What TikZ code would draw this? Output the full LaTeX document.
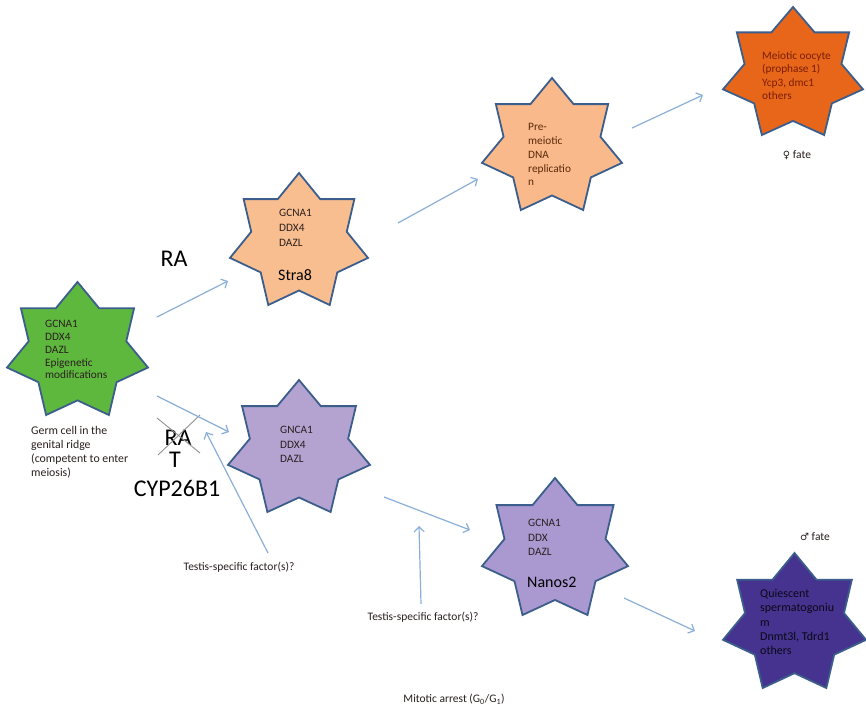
\documentclass[tikz,border=0pt]{standalone}
\usepackage{fontspec}
\setmainfont{Carlito}
\newfontfamily\symfont{DejaVu Sans}
\usetikzlibrary{arrows.meta}
\definecolor{starblue}{HTML}{3B5E8C}
\definecolor{arrblue}{HTML}{8AB0DA}
\definecolor{greenfill}{HTML}{5EB83E}
\definecolor{peachfill}{HTML}{F9BE8F}
\definecolor{peachfillb}{HTML}{F9B98B}
\definecolor{orangefill}{HTML}{E8661A}
\definecolor{lavfill}{HTML}{B4A3D0}
\definecolor{lavfillb}{HTML}{AA98D0}
\definecolor{darkpurp}{HTML}{46338F}
\definecolor{txtdark}{HTML}{2B1F1F}
\definecolor{txtbrown}{HTML}{5A2A0A}
\definecolor{txtred}{HTML}{7A1E05}
\definecolor{xgray}{HTML}{909090}
\newcommand{\sevstar}[6]{%
  \begin{scope}[shift={(#2,#3)}, xscale=#4, yscale=#5]
    \draw[starline, fill=#6] (0.5,0) -- (0.65399,0.19806) -- (0.90097,0.19806)
      -- (0.84601,0.44504) -- (1,0.64311) -- (0.77748,0.75303) -- (0.72252,1)
      -- (0.5,0.89009) -- (0.27748,1) -- (0.22252,0.75303) -- (0,0.64311)
      -- (0.15399,0.44504) -- (0.09903,0.19806) -- (0.34601,0.19806) -- cycle;
    \coordinate (#1) at (0.5,0.52605);
  \end{scope}}
\begin{document}
\begin{tikzpicture}[x=1pt,y=-1pt,
  starline/.style={draw=starblue, line width=1.8pt, line join=miter},
  conn/.style={draw=arrblue, line width=1.2pt, -{Straight Barb[length=5pt,width=10pt]}},
  txt/.style={font=\fontsize{11.3}{#1}\selectfont, align=left, inner sep=0pt, anchor=north west},
  lbl/.style={font=\fontsize{11.5}{13}\selectfont, inner sep=0pt, text=txtdark},
  big/.style={font=\fontsize{24}{26}\selectfont, inner sep=0pt, text=black},
  mid/.style={font=\fontsize{16}{18}\selectfont, inner sep=0pt, anchor=west, text=black}]
\useasboundingbox (0,0) rectangle (866,706);
\fill[white] (0,0) rectangle (866,706);

% stars
\sevstar{sgreen}{7}{282}{141}{133}{greenfill}
\sevstar{sstra}{230}{173}{138}{132}{peachfill}
\sevstar{spre}{482}{78}{140}{132}{peachfillb}
\sevstar{socyte}{723}{7}{140}{128}{orangefill}
\sevstar{sgnca}{228}{380}{142}{132}{lavfill}
\sevstar{snanos}{482}{478}{146}{137}{lavfillb}
\sevstar{squies}{723}{553}{143}{135}{darkpurp}

% star texts
\node[txt=12.75, text=txtdark] (tgreen) at (45,320.3) {GCNA1\\DDX4\\DAZL\\Epigenetic\\modifications};
\node[txt=15, text=txtdark] (tstra) at (279,209.3) {GCNA1\\DDX4\\DAZL};
\node[mid] (lstra) at (278,275) {Stra8};
\node[txt=13.8, text=txtbrown] (tpre) at (528,123.3) {Pre-\\meiotic\\DNA\\replicatio\\n};
\node[txt=13.5, text=txtred] (tocyte) at (762,51.3) {Meiotic oocyte\\(prophase 1)\\Ycp3, dmc1\\others};
\node[txt=14.5, text=txtdark] (tgnca) at (280,426.3) {GNCA1\\DDX4\\DAZL};
\node[txt=14.5, text=txtdark] (tnanos) at (528,519.3) {GCNA1\\DDX\\DAZL};
\node[mid] (lnanos) at (527,582) {Nanos2};
\node[txt=14.3, text=black!85!darkpurp, font=\fontsize{12}{14.3}\selectfont] (tquies) at (760,589) {Quiescent\\spermatogoniu\\m\\Dnmt3l, Tdrd1\\others};

% other labels
\node[txt=14, text=txtdark, font=\fontsize{11.8}{14}\selectfont] (germ) at (31,426) {Germ cell in the\\genital ridge\\(competent to enter\\meiosis)};
\node[lbl] (ffate) at (797,155) {{\symfont\fontsize{10}{12}\selectfont ♀} fate};
\node[lbl] (mfate) at (815,537) {{\symfont\fontsize{10}{12}\selectfont ♂} fate};
\node[big] (ra) at (174,259) {RA};
\node[big] (rax) at (178,438) {RA};
\node[big] (rat) at (175,460) {T};
\node[big] (cyp) at (177,488) {CYP26B1};
\node[lbl] (tsf1) at (239,567) {Testis-specific factor(s)?};
\node[lbl] (tsf2) at (423,617) {Testis-specific factor(s)?};
\node[lbl] (mit) at (454,699) {Mitotic arrest (G\textsubscript{0}/G\textsubscript{1})};

% cross over RA
\coordinate (xa1) at (157,418);
\coordinate (xa2) at (200,453);
\coordinate (xb1) at (158,455);
\coordinate (xb2) at (200,415);
\draw[xgray, line width=0.9pt] (xa1) -- (xa2);
\draw[xgray, line width=0.9pt] (xb1) -- (xb2);

% arrows
\coordinate (a1s) at (157,317); \coordinate (a1e) at (228,281);
\coordinate (a2s) at (157,396); \coordinate (a2e) at (229,432);
\coordinate (a3s) at (398,223); \coordinate (a3e) at (478,179);
\coordinate (a4s) at (632,128); \coordinate (a4e) at (703,95);
\coordinate (a5s) at (384,497); \coordinate (a5e) at (470,530);
\coordinate (a6s) at (624,598); \coordinate (a6e) at (695,631);
\coordinate (a7s) at (268,553); \coordinate (a7e) at (206,432);
\coordinate (a8s) at (421,604); \coordinate (a8e) at (419,526);
\draw[conn] (a1s) -- (a1e);
\draw[conn] (a2s) -- (a2e);
\draw[conn] (a3s) -- (a3e);
\draw[conn] (a4s) -- (a4e);
\draw[conn] (a5s) -- (a5e);
\draw[conn] (a6s) -- (a6e);
\draw[conn] (a7s) -- (a7e);
\draw[conn] (a8s) -- (a8e);
\end{tikzpicture}
\end{document}
